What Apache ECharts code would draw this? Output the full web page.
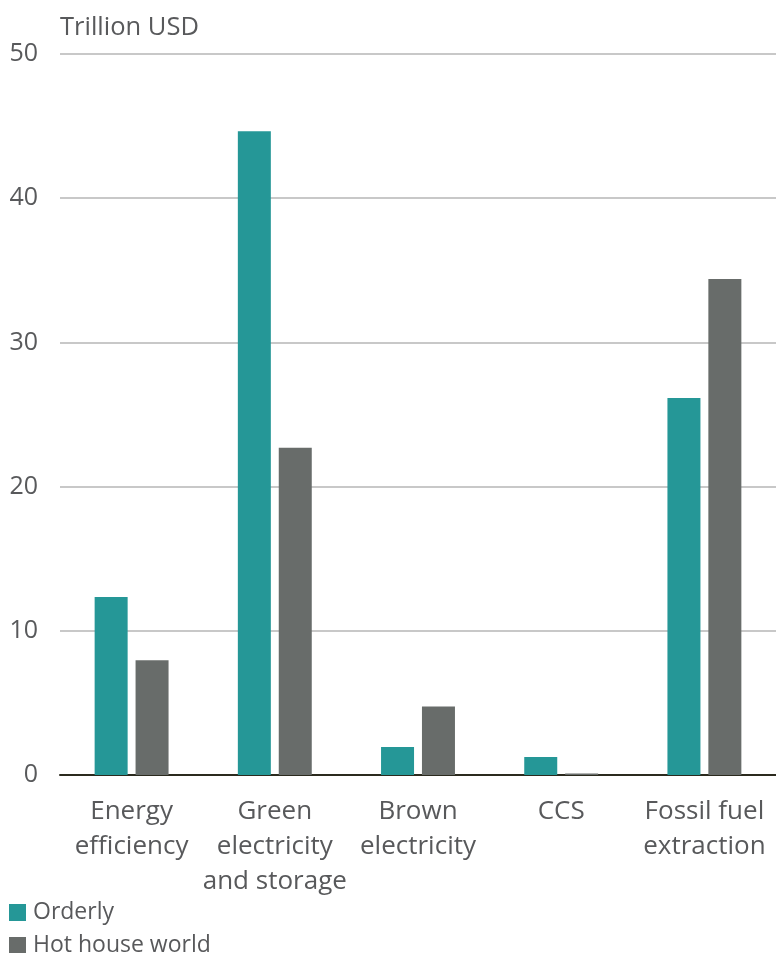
<!DOCTYPE html>
<html>
<head>
<meta charset="utf-8">
<script src="https://cdn.jsdelivr.net/npm/echarts@6/dist/echarts.min.js"></script>
<style>
  html, body { margin: 0; padding: 0; background: #fff; }
  #chart { width: 776px; height: 953px; }
</style>
</head>
<body>
<div id="chart"></div>
<script>
// Investment by technology, two scenarios (trillion USD)
const categories = ['Energy\nefficiency', 'Green\nelectricity\nand storage', 'Brown\nelectricity', 'CCS', 'Fossil fuel\nextraction'];
const orderly = [12.35, 44.65, 1.95, 1.25, 26.15];
const hotHouse = [7.95, 22.7, 4.75, 0.1, 34.4];
const seriesNames = ['Orderly', 'Hot house world'];
const yTicks = [0, 10, 20, 30, 40, 50];

const textColor = '#58595b';
const font = '"Open Sans", "Noto Sans", sans-serif';

// one legend entry per row, stacked under the chart
function legendRow(name, top) {
  return {
    orient: 'horizontal',
    left: 9,
    top: top,
    padding: 0,
    itemWidth: 17,
    itemHeight: 17,
    icon: 'rect',
    textStyle: { color: textColor, fontSize: 23, fontFamily: font, padding: [0, 0, 0, 2] },
    data: [name]
  };
}

const chart = echarts.init(document.getElementById('chart'), null, { renderer: 'canvas' });
chart.setOption({
  animation: false,
  textStyle: { fontFamily: font },
  grid: { left: 60, right: 0, top: 54, bottom: 178, containLabel: false },
  legend: [legendRow(seriesNames[0], 901), legendRow(seriesNames[1], 934)],
  xAxis: {
    type: 'category',
    data: categories,
    axisLine: { lineStyle: { color: '#2b2a1e', width: 2 } },
    axisTick: { show: false },
    axisLabel: {
      color: textColor,
      fontSize: 26,
      lineHeight: 35,
      margin: 19,
      interval: 0,
      fontFamily: font
    }
  },
  yAxis: {
    type: 'value',
    min: yTicks[0],
    max: yTicks[yTicks.length - 1],
    interval: 10,
    name: 'Trillion USD',
    nameLocation: 'end',
    nameGap: 13,
    nameTextStyle: { color: textColor, fontSize: 25.5, align: 'left', fontFamily: font },
    axisLine: { show: false },
    axisTick: { show: false },
    splitLine: { lineStyle: { color: '#c8c8c8', width: 2 } },
    axisLabel: { color: textColor, fontSize: 25, margin: 22, fontFamily: font }
  },
  series: [
    {
      name: seriesNames[0],
      type: 'bar',
      data: orderly,
      barWidth: 33,
      barGap: '24%',
      itemStyle: { color: '#259797' }
    },
    {
      name: seriesNames[1],
      type: 'bar',
      data: hotHouse,
      barWidth: 33,
      itemStyle: { color: '#686c6a' }
    }
  ]
});
</script>
</body>
</html>
